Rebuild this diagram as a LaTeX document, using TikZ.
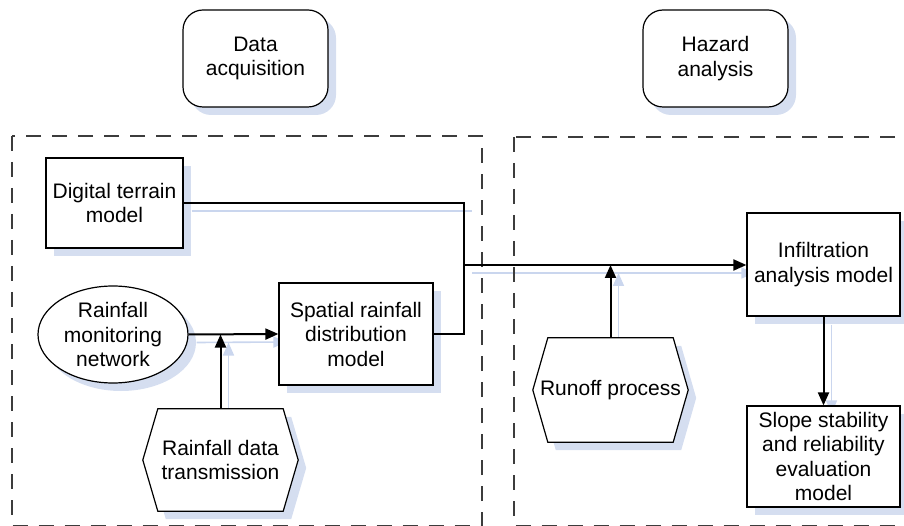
\documentclass[tikz,border=0pt]{standalone}
\usepackage{fontspec}
\setmainfont{Liberation Sans}
\usetikzlibrary{arrows.meta,shapes.geometric,shadows,calc,backgrounds}
\definecolor{shd}{HTML}{D5DEF0}
\definecolor{shdl}{HTML}{CAD6EE}
\definecolor{dashc}{HTML}{3C3C3C}
\begin{document}
\begin{tikzpicture}[x=1pt,y=-1pt,
  every node/.style={font=\fontsize{21}{24.5}\selectfont, align=center, inner sep=0pt},
  box/.style={draw, line width=1.2pt, fill=white, drop shadow={shadow xshift=8pt, shadow yshift=-8pt, fill=shd, opacity=1}},
  rbox/.style={box, rounded corners=20pt},
  hexnode/.style={minimum width=155pt, minimum height=102pt},
  conn/.style={line width=2pt},
  arr/.style={conn, -{Triangle[length=13pt,width=11pt]}},
  shline/.style={draw=shdl, line width=1.6pt, transform canvas={shift={(8pt,-8pt)}}},
  sharr/.style={shline, -{Triangle[length=13pt,width=11pt]}},
  frame/.style={draw=dashc, line width=2pt, dash pattern=on 15pt off 11pt}
]
\useasboundingbox (0,0) rectangle (904,526);
\clip (0,0) rectangle (904,526);

% dashed frames
\draw[frame] (12,136) rectangle (482,525.5);
\draw[frame] (514,137) rectangle (940,525.5);

% header boxes
\node[rbox, minimum width=145pt, minimum height=97pt] (da) at (255.5,58.5) {Data\\acquisition};
\node[rbox, minimum width=145pt, minimum height=97pt] (ha) at (715.5,58.5) {Hazard\\analysis};

% nodes
\node[box, minimum width=137pt, minimum height=90pt] (dtm) at (114.5,203) {Digital terrain\\model};
\node[box, ellipse, minimum width=150pt, minimum height=97pt] (rmn) at (113,334.5) {Rainfall\\monitoring\\network};
\node[box, minimum width=154pt, minimum height=102pt] (srd) at (356,334) {Spatial rainfall\\distribution\\model};
\node[hexnode] (rdt) at (220.5,460) {Rainfall data\\transmission};
\node[hexnode, minimum height=104pt] (ro) at (610.5,390) {Runoff process};
\node[box, minimum width=153pt, minimum height=103pt] (iam) at (823.5,264.5) {Infiltration\\analysis model};
\node[box, minimum width=153pt, minimum height=101pt] (ssr) at (823.5,456.5) {Slope stability\\and reliability\\evaluation\\model};

\coordinate (j1) at (464,265);

% hexagon shapes and connector shadows on background
\begin{pgfonlayer}{background}
  \draw[shline] (dtm.east) -- (dtm.east -| j1);
  \draw[sharr] (j1) -- (j1 -| iam.west);
  \draw[sharr] (rmn.east) -- (srd.west);
  \draw[sharr] (rdt.north) -- (rdt.north |- rmn.east);
  \draw[sharr] (ro.north) -- (ro.north |- j1);
  \draw[sharr] (iam.south) -- (ssr.north);
  \foreach \n in {rdt,ro}{
    \fill[shd, transform canvas={shift={(8pt,-8pt)}}] (\n.west) -- ($(\n.north west)+(15,0)$) -- ($(\n.north east)+(-15,0)$) -- (\n.east) -- ($(\n.south east)+(-15,0)$) -- ($(\n.south west)+(15,0)$) -- cycle;
    \draw[line width=1.2pt, fill=white] (\n.west) -- ($(\n.north west)+(15,0)$) -- ($(\n.north east)+(-15,0)$) -- (\n.east) -- ($(\n.south east)+(-15,0)$) -- ($(\n.south west)+(15,0)$) -- cycle;
  }
\end{pgfonlayer}

% connectors
\draw[conn] (dtm.east) -| (j1) |- (srd.east);
\draw[arr] (j1) -- (j1 -| iam.west);
\draw[arr] (rmn.east) -- (srd.west);
\draw[arr] (rdt.north) -- (rdt.north |- rmn.east);
\draw[arr] (ro.north) -- (ro.north |- j1);
\draw[arr] (iam.south) -- (ssr.north);
\end{tikzpicture}
\end{document}
